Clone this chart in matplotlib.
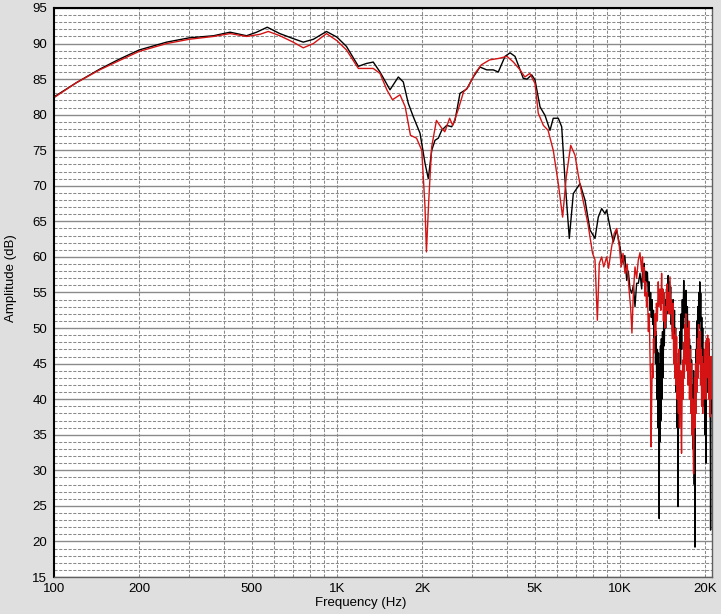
import matplotlib
matplotlib.use("Agg")
import matplotlib.pyplot as plt
from matplotlib.ticker import FixedLocator, LogLocator, NullFormatter

black_freq = [100, 120, 145, 170, 200, 250, 300, 366, 419, 479, 520, 567, 628, 700, 760, 825, 918,
              1000, 1080, 1190, 1270, 1343, 1419, 1539, 1647, 1715, 1786, 1861, 1965, 2046, 2102,
              2161, 2220, 2280, 2344, 2442, 2543, 2612, 2720, 2873, 3031, 3201, 3381, 3567, 3715,
              3924, 4088, 4256, 4553, 4693, 4875, 5007, 5217, 5433, 5657, 5810, 6053, 6223, 6393,
              6620, 6839, 7222, 7522, 7834, 8159, 8380, 8613, 8851, 8970, 9218, 9470, 9730,
              10000, 10120, 10270, 10400, 10560, 10700, 10850, 11000, 11150, 11298, 11450, 11610,
              11770, 11930, 12030, 12100, 12180, 12255, 12340, 12420, 12500, 12590, 12670, 12750,
              12830, 12900, 12980, 13050, 13130, 13200, 13280, 13350, 13420, 13500, 13560, 13620,
              13680, 13720, 13760, 13800, 13850, 13900, 13950, 14000, 14060, 14130, 14200, 14270,
              14340, 14421, 14500, 14600, 14700, 14800, 14870, 14950, 15020, 15100, 15170, 15250,
              15330, 15400, 15500, 15580, 15643, 15720, 15790, 15850, 15920, 15970, 16030, 16090,
              16150, 16220, 16290, 16370, 16450, 16520, 16600, 16680, 16800, 16880, 16950, 17030,
              17100, 17200, 17300, 17380, 17450, 17530, 17600, 17680, 17750, 17830, 17900, 17980,
              18060, 18130, 18200, 18300, 18350, 18407, 18460, 18530, 18600, 18680, 18750, 18830,
              18900, 18980, 19060, 19140, 19220, 19290, 19370, 19450, 19530, 19600, 19680, 19750,
              19830, 19900, 19980, 20050, 20130, 20200, 20280, 20360, 20440, 20520, 20600, 20680,
              20760, 20850, 20900, 20960, 21030, 21140]
black_db = [82.5, 84.5, 86.4, 87.8, 89.1, 90.2, 90.8, 91.1, 91.6, 91.1, 91.6, 92.3, 91.4, 90.7, 90.2, 90.6, 91.7,
            90.9, 89.6, 86.8, 87.2, 87.4, 86.0, 83.5, 85.3, 84.6, 81.6, 79.7, 77.4, 73.2, 71.0,
            75.0, 76.4, 76.7, 77.8, 78.5, 78.3, 79.2, 83.0, 83.6, 85.3, 86.7, 86.3, 86.3, 86.0,
            88.2, 88.7, 88.2, 85.1, 85.0, 85.6, 84.9, 81.1, 79.9, 77.8, 79.5, 79.5, 78.3, 70.8,
            62.6, 68.9, 70.3, 68.0, 63.8, 62.6, 65.6, 66.8, 66.1, 66.6, 64.2, 62.1, 63.8,
            61.4, 60.0, 59.1, 60.2, 56.7, 58.0, 55.5, 54.9, 56.0, 53.0, 56.3, 56.3,
            57.7, 55.5, 58.5, 56.5, 59.1, 55.0, 58.0, 56.5, 57.8, 54.5, 56.5, 52.5,
            55.0, 51.5, 54.0, 50.5, 52.5, 48.5, 51.5, 45.0, 49.5, 40.0, 47.0, 36.0,
            46.5, 33.0, 23.2, 45.0, 34.0, 47.5, 37.0, 48.5, 40.0, 49.5, 43.0, 51.0,
            47.5, 54.0, 50.0, 55.5, 52.0, 57.4, 53.5, 56.5, 52.5, 55.8, 50.5, 53.5,
            49.5, 54.0, 48.5, 52.5, 46.0, 50.0, 41.0, 46.5, 36.0, 44.0, 24.9, 42.0,
            47.0, 43.0, 49.5, 45.0, 52.0, 47.0, 54.0, 50.0, 56.7, 51.5, 55.0, 50.5,
            55.3, 49.5, 53.0, 46.5, 50.2, 43.0, 48.5, 41.0, 47.5, 40.0, 45.5, 36.0,
            42.0, 33.0, 44.0, 28.0, 38.0, 19.2, 40.0, 47.0, 43.0, 51.0, 46.0, 53.0,
            48.0, 55.0, 50.0, 56.5, 51.0, 54.9, 47.5, 51.5, 45.0, 50.0, 41.0, 47.0,
            39.0, 45.5, 35.0, 42.0, 31.0, 43.0, 46.5, 41.0, 47.5, 42.0, 48.0, 43.0,
            46.0, 35.0, 21.6, 40.0, 44.0, 38.0]

red_freq = [100, 120, 145, 170, 200, 250, 300, 366, 419, 479, 534, 572, 628, 700, 760, 825, 918,
            1000, 1080, 1190, 1343, 1419, 1500, 1570, 1670, 1742, 1818, 1910, 1993, 2046, 2070,
            2110, 2161, 2246, 2344, 2404, 2500, 2564, 2680, 2800, 2905, 3072, 3234, 3460, 3715,
            3987, 4200, 4435, 4610, 4800, 5007, 5143, 5360, 5570, 5810, 6053, 6270, 6460, 6696,
            6934, 7123, 7400, 7700, 8000, 8159, 8318, 8450, 8613, 8760, 8970, 9110, 9340, 9540,
            9730, 9950, 10100, 10250, 10415, 10600, 10770, 10900, 11020, 11150, 11298, 11450,
            11600, 11767, 11930, 12010, 12090, 12170, 12250, 12330, 12410, 12500, 12600, 12680,
            12764, 12830, 12880, 12940, 13000, 13070, 13130, 13200, 13294, 13370, 13450, 13550,
            13650, 13740, 13840, 13940, 14030, 14100, 14170, 14240, 14300, 14400, 14480, 14560,
            14650, 14740, 14830, 14920, 15019, 15100, 15200, 15290, 15400, 15480, 15550, 15620,
            15700, 15780, 15850, 15920, 16000, 16080, 16150, 16220, 16300, 16350, 16400, 16450,
            16500, 16580, 16650, 16720, 16800, 16880, 16950, 17030, 17100, 17200, 17300, 17400,
            17500, 17600, 17700, 17800, 17900, 17980, 18050, 18130, 18200, 18280, 18350, 18430,
            18500, 18580, 18650, 18730, 18800, 18880, 18950, 19060, 19172, 19260, 19350, 19430,
            19500, 19600, 19700, 19800, 19880, 19968, 20060, 20150, 20230, 20300, 20400, 20500,
            20580, 20650, 20720, 20800, 20870, 20950, 21030, 21140]
red_db = [82.4, 84.5, 86.3, 87.6, 88.9, 90.0, 90.6, 91.0, 91.4, 91.0, 91.3, 91.7, 91.1, 90.2, 89.4, 90.0, 91.4,
          90.4, 89.1, 86.5, 86.5, 85.8, 83.5, 82.1, 82.8, 81.1, 77.1, 76.7, 75.0, 67.1, 60.7,
          68.0, 75.5, 79.2, 78.1, 77.6, 79.5, 78.5, 80.7, 83.2, 83.9, 85.8, 87.0, 87.7, 87.9,
          88.2, 87.4, 86.3, 85.3, 85.8, 84.4, 80.2, 78.5, 77.8, 75.0, 70.3, 65.6, 71.3, 75.7,
          74.3, 71.5, 68.0, 64.7, 60.5, 59.6, 51.1, 59.1, 60.0, 58.6, 60.0, 58.4, 61.4, 63.3,
          64.0, 61.4, 58.6, 60.5, 57.7, 59.0, 55.3, 53.0, 49.3, 55.0, 58.6, 57.0,
          59.5, 60.6, 58.0, 60.0, 56.5, 58.5, 54.5, 56.5, 53.0, 55.0, 49.5, 52.0,
          46.0, 42.0, 33.3, 40.0, 45.0, 43.0, 48.5, 46.5, 52.0, 49.0, 53.5, 51.0,
          56.5, 53.0, 55.5, 52.5, 57.7, 53.5, 55.5, 51.0, 55.0, 50.0, 53.0, 51.0,
          56.2, 52.5, 55.0, 52.0, 57.2, 52.0, 54.0, 48.5, 53.5, 45.0, 49.0, 43.0,
          50.0, 42.0, 48.8, 40.0, 45.0, 38.0, 47.0, 36.0, 43.0, 38.0, 44.0, 35.0,
          32.4, 41.0, 45.5, 40.0, 48.0, 43.0, 50.5, 45.0, 52.0, 44.0, 50.0, 42.0,
          51.0, 40.0, 47.0, 38.0, 45.0, 35.0, 40.0, 33.0, 29.5, 38.0, 43.0, 36.0,
          45.0, 38.0, 47.0, 41.0, 48.5, 43.0, 50.5, 45.0, 49.5, 42.0, 47.0, 39.0,
          46.0, 38.0, 45.0, 40.0, 47.0, 42.0, 48.0, 40.0, 48.5, 43.0, 49.0, 44.0,
          48.5, 40.0, 46.0, 37.5, 45.0, 40.0, 46.0, 42.0]

x_ticks = [100, 200, 500, 1000, 2000, 5000, 10000, 20000]
x_tick_labels = ["100", "200", "500", "1K", "2K", "5K", "10K", "20K"]
y_ticks = list(range(15, 96, 5))

W, H = 721, 614
bg = "#dfdfdf"
grid_col = "#8a8a8a"

plt.rcParams['font.family'] = ['Liberation Sans', 'DejaVu Sans']

fig = plt.figure(figsize=(W / 100, H / 100), dpi=100, facecolor=bg)
ax = fig.add_axes([54 / W, (H - 577) / H, (712 - 54) / W, (577 - 8) / H])
ax.set_facecolor("white")

ax.plot(black_freq, black_db, color="black", lw=1.0)
ax.plot(red_freq, red_db, color="#d41414", lw=1.0)

ax.set_xscale("log")
ax.set_xlim(100, 21140)
ax.set_ylim(15, 95)

ax.xaxis.set_major_locator(FixedLocator(x_ticks))
ax.set_xticklabels(x_tick_labels)
ax.xaxis.set_minor_locator(LogLocator(base=10, subs=range(1, 10), numticks=20))
ax.xaxis.set_minor_formatter(NullFormatter())
ax.set_yticks(y_ticks)
ax.set_yticks(range(15, 96), minor=True)

# grid: solid every 5 dB, dashed every 1 dB and dashed verticals
ax.set_axisbelow(True)
ax.yaxis.grid(True, which="major", color=grid_col, ls="-", lw=1.0)
ax.yaxis.grid(True, which="minor", color=grid_col, ls=(0, (3, 1.5)), lw=0.75)
ax.xaxis.grid(True, which="both", color=grid_col, ls=(0, (3, 1.5)), lw=0.75)

ax.tick_params(which="both", length=0, labelsize=9.5, colors="black")
ax.tick_params(axis="y", pad=5)
ax.tick_params(axis="x", pad=4)

# sunken frame look
for side in ["left", "top"]:
    ax.spines[side].set_color("black")
    ax.spines[side].set_linewidth(1.5)
for side in ["right", "bottom"]:
    ax.spines[side].set_color("#606060")
    ax.spines[side].set_linewidth(1.0)

fig.text(361 / W, 1 - 603 / H, "Frequency (Hz)", ha="center", va="center", fontsize=9.5)
fig.text(11 / W, 1 - 278 / H, "Amplitude (dB)", ha="center", va="center", rotation=90, fontsize=9.5)

fig.savefig("out.png", dpi=100, facecolor=bg)
